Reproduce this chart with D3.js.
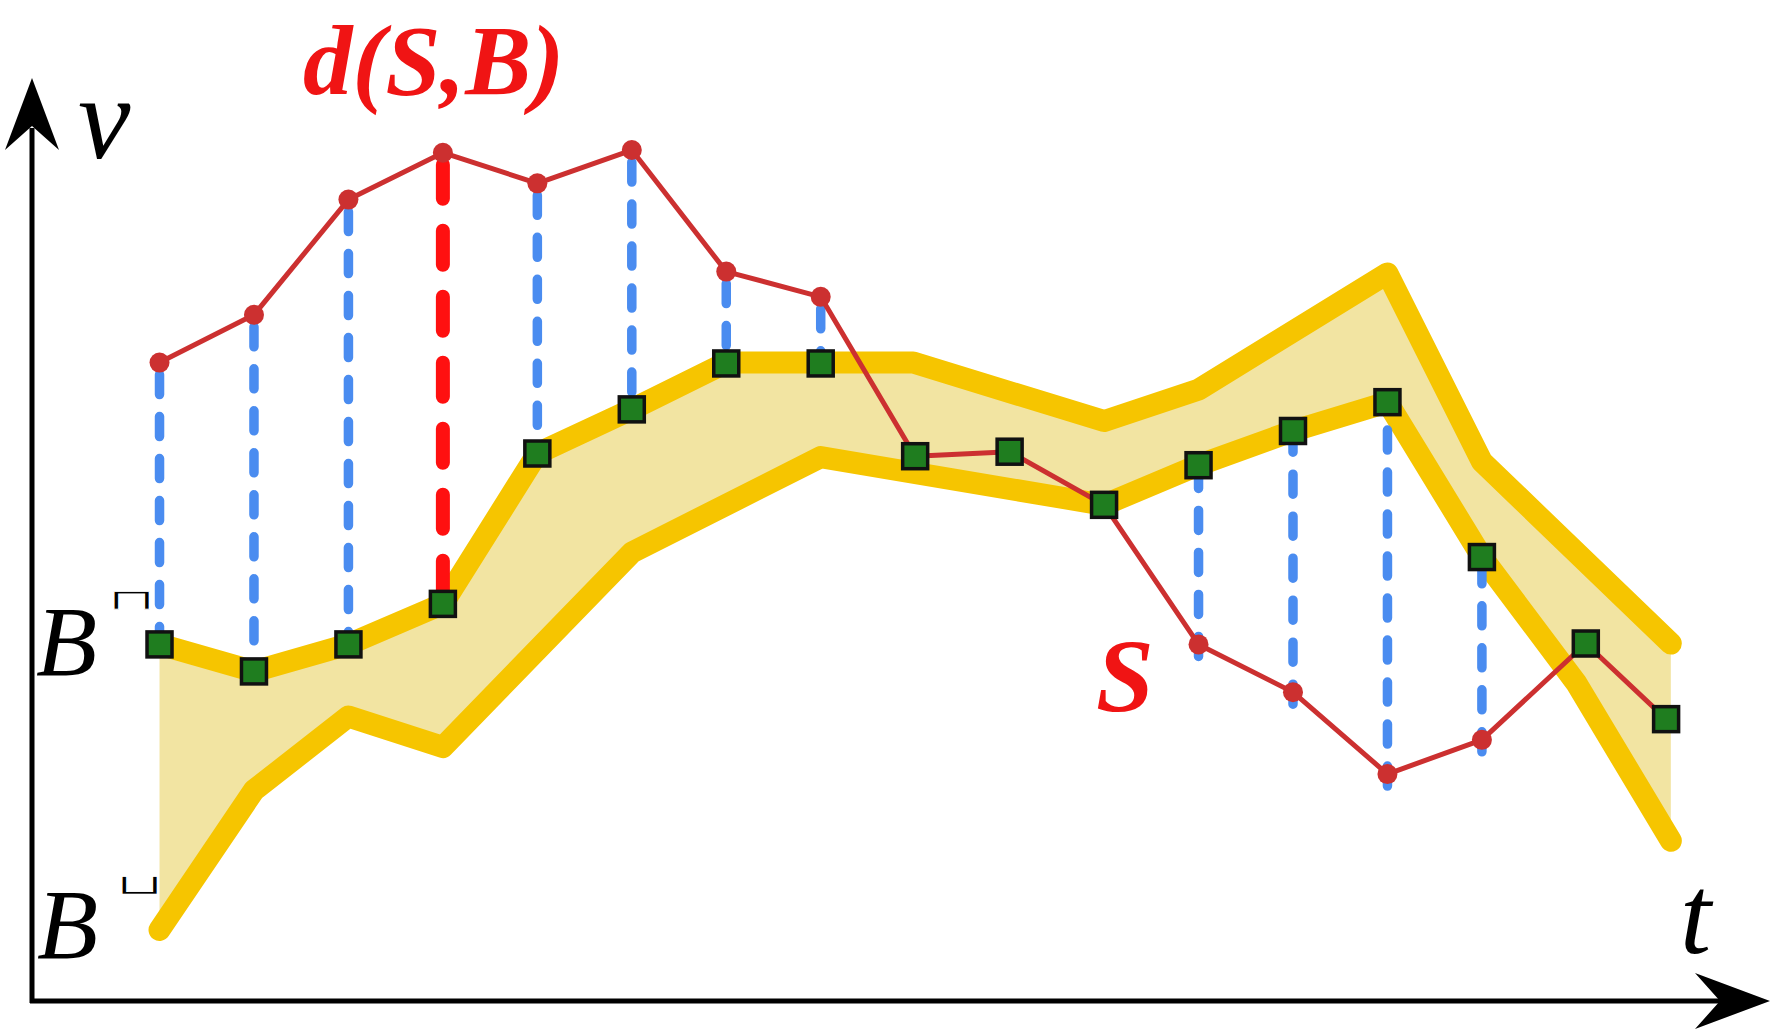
<!DOCTYPE html>
<html>
<head>
<meta charset="utf-8">
<script src="https://cdn.jsdelivr.net/npm/d3@7"></script>
<style>
  body { margin: 0; background: #fff; }
  svg { display: block; }
</style>
</head>
<body>
<div id="chart"></div>
<script type="text/javascript">

      // series S (red line) : time and value
      var sT = [0, 1, 2, 3, 4, 5, 6, 7, 8, 9, 10, 11, 12, 13, 14, 15.1, 15.95];
      var sV = [7.09, 7.62, 8.90, 9.42, 9.08, 9.45, 8.10, 7.82, 6.05, 6.10, 5.51, 3.96, 3.43, 2.52, 2.90, 3.97, 3.13];
      // nearest point of the band B for each point of S (green squares)
      var pV = [3.96, 3.66, 3.96, 4.41, 6.08, 6.57, 7.08, 7.08, 6.05, 6.10, 5.51, 5.95, 6.33, 6.65, 4.93, 3.97, 3.13];

      // upper bound of the band
      var upT = [0, 1, 2, 3, 4, 5, 6, 7.98, 10, 11, 13, 14, 16];
      var upV = [3.96, 3.66, 3.96, 4.41, 6.08, 6.57, 7.09, 7.09, 6.44, 6.79, 8.08, 5.99, 3.97];
      // lower bound of the band
      var loT = [0, 1, 2, 3, 5, 7, 10, 11, 12, 13, 14, 15, 16];
      var loV = [0.79, 2.34, 3.16, 2.82, 4.98, 6.04, 5.51, 5.95, 6.33, 6.65, 4.93, 3.53, 1.78];

      var w = 1783, h = 1033;
      var tDomain = [-1.35, 17.05], vDomain = [0, 10.25];

      var x = d3.scaleLinear().domain(tDomain).range([32, 1770]);
      var y = d3.scaleLinear().domain(vDomain).range([1001, 78]);

      var svg = d3.select("#chart")
                  .append("svg")
                  .attr("width", w)
                  .attr("height", h);

      var S = sT.map(function(t, i) { return {t: t, v: sV[i], p: pV[i]}; });
      var upper = upT.map(function(t, i) { return {t: t, v: upV[i]}; });
      var lower = loT.map(function(t, i) { return {t: t, v: loV[i]}; });

      var line = d3.line()
                   .x(function(d) { return x(d.t); })
                   .y(function(d) { return y(d.v); });

      // band fill : upper forward then lower backward
      svg.append("path")
         .attr("d", line.curve(d3.curveLinearClosed)(upper.concat(lower.slice().reverse())))
         .attr("fill", "#f2e4a2");
      line.curve(d3.curveLinear);

      [upper, lower].forEach(function(b) {
        svg.append("path")
           .attr("d", line(b))
           .attr("fill", "none")
           .attr("stroke", "#f6c500")
           .attr("stroke-width", 22)
           .attr("stroke-linejoin", "round")
           .attr("stroke-linecap", "round");
      });

      // the largest gap is d(S,B)
      var far = d3.maxIndex(S, function(d) { return d.v - d.p; });

      svg.selectAll("line.gap")
         .data(S.filter(function(d) { return Math.abs(d.v - d.p) > 0.05; }))
         .enter()
         .append("line")
         .attr("class", "gap")
         .attr("x1", function(d) { return x(d.t); })
         .attr("x2", function(d) { return x(d.t); })
         .attr("y1", function(d) { return y(d.v) + 12; })
         .attr("y2", function(d) { return y(d.p); })
         .attr("stroke", function(d) { return d === S[far] ? "#ff1010" : "#4a8cf0"; })
         .attr("stroke-width", function(d) { return d === S[far] ? 14 : 9.5; })
         .attr("stroke-dasharray", function(d) { return d === S[far] ? "34,32" : "20,22"; })
         .attr("stroke-linecap", "round");

      svg.append("path")
         .attr("d", line(S))
         .attr("fill", "none")
         .attr("stroke", "#cc3030")
         .attr("stroke-width", 5)
         .attr("stroke-linejoin", "round");

      svg.selectAll("circle")
         .data(S.filter(function(d) { return Math.abs(d.v - d.p) > 0.05; }))
         .enter()
         .append("circle")
         .attr("cx", function(d) { return x(d.t); })
         .attr("cy", function(d) { return y(d.v); })
         .attr("r", 10)
         .attr("fill", "#cc3030");

      var sq = 25;
      svg.selectAll("rect")
         .data(S)
         .enter()
         .append("rect")
         .attr("x", function(d) { return x(d.t) - sq / 2; })
         .attr("y", function(d) { return y(d.p) - sq / 2; })
         .attr("width", sq)
         .attr("height", sq)
         .attr("fill", "#1f7d1f")
         .attr("stroke", "#111")
         .attr("stroke-width", 3.5);

      // axes with arrow heads
      var ox = x(tDomain[0]), oy = y(0);
      var tx = x(tDomain[1]), ty = y(vDomain[1]);
      svg.append("path")
         .attr("d", "M" + (ox - 2) + "," + oy + "H" + (tx - 50) + "M" + ox + "," + (oy + 2) + "V" + (ty + 50))
         .attr("stroke", "#000")
         .attr("stroke-width", 5)
         .attr("fill", "none");
      svg.append("path")
         .attr("d", "M" + tx + "," + oy + "L" + (tx - 75) + "," + (oy - 28) + "L" + (tx - 50) + "," + oy + "L" + (tx - 75) + "," + (oy + 28) + "Z")
         .attr("fill", "#000");
      svg.append("path")
         .attr("d", "M" + ox + "," + ty + "L" + (ox - 27) + "," + (ty + 72) + "L" + ox + "," + (ty + 48) + "L" + (ox + 27) + "," + (ty + 72) + "Z")
         .attr("fill", "#000");

      var serif = "'Liberation Serif', 'Times New Roman', serif";
      function label(txt, px, py, size, color, bold) {
        return svg.append("text")
                  .attr("x", px)
                  .attr("y", py)
                  .attr("font-family", serif)
                  .attr("font-style", "italic")
                  .attr("font-weight", bold ? "bold" : "normal")
                  .attr("font-size", size)
                  .attr("fill", color)
                  .text(txt);
      }

      label("d(S,B)", 303, 94, 99, "#f01414", true);
      label("S", 1096, 711, 104, "#f01414", true);
      label("v", 78, 158, 118, "#000", false);
      label("t", 1680, 953, 112, "#000", false);
      label("B", 36, 675, 100, "#000", false);
      label("B", 37, 958, 100, "#000", false);

      // small bracket marks as superscripts (thinned with a white edge)
      function mark(txt, px, py) {
        svg.append("text")
           .attr("transform", "translate(" + px + "," + py + ") scale(1.75,0.78)")
           .attr("font-family", "'DejaVu Sans ExtraLight', 'DejaVu Sans', sans-serif")
           .attr("font-size", 36)
           .attr("fill", "#000")
           .attr("stroke", "#fff")
           .attr("stroke-width", 0.9)
           .text(txt);
      }
      mark("\u2293", 107, 609);
      mark("\u2294", 115, 894);

            </script>
</body>
</html>
